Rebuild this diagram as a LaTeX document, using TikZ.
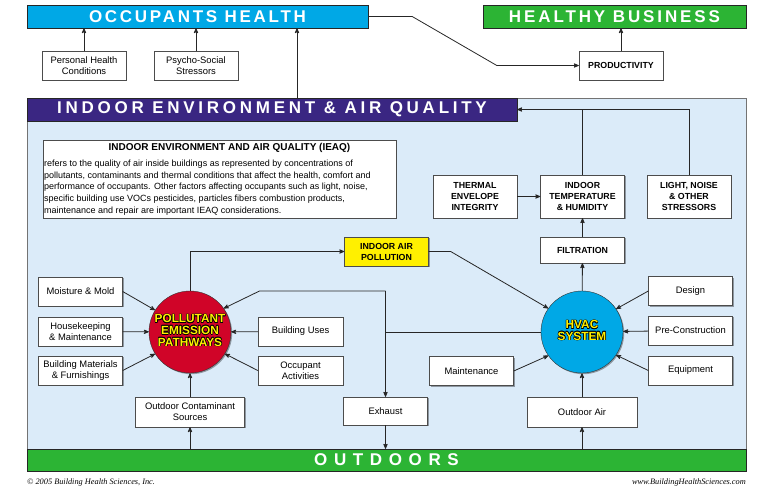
\documentclass[tikz,border=0pt]{standalone}
\usepackage{fontspec}
\setmainfont{Liberation Sans}
\newfontfamily\creditfont{Liberation Serif}
\usepackage{tikz}
\usetikzlibrary{arrows,shadows}
\definecolor{occblue}{RGB}{0,168,230}
\definecolor{iaqpurple}{RGB}{58,38,130}
\definecolor{bizgreen}{RGB}{44,180,52}
\definecolor{panelblue}{RGB}{219,235,249}
\definecolor{pepred}{RGB}{208,4,40}
\definecolor{hilite}{RGB}{255,240,0}
\newsavebox\hubdark
\newsavebox\hublight
\newcommand{\outlined}[1]{%
  \sbox\hubdark{\color{black}\begin{tabular}{@{}c@{}}#1\end{tabular}}%
  \sbox\hublight{\color{hilite}\begin{tabular}{@{}c@{}}#1\end{tabular}}%
  \foreach \dx/\dy in {.6/0,-.6/0,0/.6,0/-.6,.45/.45,-.45/.45,.45/-.45,-.45/-.45}{\rlap{\kern\dx pt\raise\dy pt\copy\hubdark}}%
  \copy\hublight}

\begin{document}
\begin{tikzpicture}[x=1pt, y=-1pt, >=stealth',
    shade/.style={drop shadow={shadow xshift=1.2pt, shadow yshift=-1.2pt, opacity=.35, fill=black}},
    bar/.style={draw=black!85, text=white, inner sep=0pt, shade,
      font=\fontsize{17}{17}\selectfont\bfseries\addfontfeature{LetterSpace=#1}},
    box/.style={draw=black!70, fill=white, minimum width=84, minimum height=29, inner sep=1pt,
      align=center, shade, font=\fontsize{9.4}{11}\selectfont},
    capbox/.style={box, font=\fontsize{8.8}{11}\selectfont\bfseries},
    hub/.style={circle, draw=black!80, minimum size=82, inner sep=0pt, shade,
      font=\fontsize{11.8}{11.5}\selectfont\bfseries},
    wire/.style={line width=0.8pt, black!85},
    link/.style={wire, ->}]
    \useasboundingbox (0,0) rectangle (761,488);

    \draw[fill=panelblue, draw=black!55] (27,98) rectangle (746,449);

    \node[bar=16, fill=occblue, minimum width=341, minimum height=23] (occ) at (197.5,16.5) {OCCUPANTS HEALTH};
    \node[bar=17, fill=bizgreen, minimum width=263, minimum height=23] (biz) at (614.5,16.5) {HEALTHY BUSINESS};
    \node[bar=22, fill=iaqpurple, minimum width=490, minimum height=23] (iaq) at (272,109.5) {INDOOR ENVIRONMENT \& AIR QUALITY};
    \node[bar=39, fill=bizgreen, minimum width=719, minimum height=22] (outdoors) at (386.5,460) {OUTDOORS};

    \node[box] (personal) at (84,65.5) {Personal Health\\Conditions};
    \node[box] (psycho) at (196,65.5) {Psycho-Social\\Stressors};
    \node[capbox] (prod) at (621,65.5) {PRODUCTIVITY};

    \node[box, minimum width=353, minimum height=78] (ieaqdef) at (219.5,179) {};
    \node[font=\fontsize{10}{11}\selectfont\bfseries] (ieaqtitle) at (229.5,148) {INDOOR ENVIRONMENT AND AIR QUALITY (IEAQ)};
    \node[anchor=north west, align=left, inner sep=0pt, font=\fontsize{9}{11.6}\selectfont] (ieaqbody) at (44,160)
      {refers to the quality of air inside buildings as represented by concentrations of\\
       pollutants, contaminants and thermal conditions that affect the health, comfort and\\
       performance of occupants. Other factors affecting occupants such as light, noise,\\
       specific building use VOCs pesticides, particles fibers combustion products,\\
       maintenance and repair are important IEAQ considerations.};

    \node[capbox, minimum height=43] (thermal) at (475,196.5) {THERMAL\\ENVELOPE\\INTEGRITY};
    \node[capbox, minimum height=43] (temp) at (582.5,196.5) {INDOOR\\TEMPERATURE\\\& HUMIDITY};
    \node[capbox, minimum height=43] (light) at (689,196.5) {LIGHT, NOISE\\\& OTHER\\STRESSORS};
    \node[capbox, minimum height=26] (filtration) at (582.5,250) {FILTRATION};
    \node[capbox, fill=hilite] (iap) at (386.5,251.5) {INDOOR AIR\\POLLUTION};

    \node[hub, fill=pepred] (pep) at (190,332) {\outlined{POLLUTANT\\EMISSION\\PATHWAYS}};
    \node[hub, fill=occblue, font=\fontsize{11.8}{11}\selectfont\bfseries] (hvac) at (582,332) {\outlined{HVAC\\SYSTEM}};

    \node[box] (moisture) at (80.5,291.5) {Moisture \& Mold};
    \node[box] (housekeeping) at (80.5,331.5) {Housekeeping\\\& Maintenance};
    \node[box] (materials) at (80.5,370.5) {Building Materials\\\& Furnishings};
    \node[box, minimum width=85] (uses) at (300.5,331.5) {Building Uses};
    \node[box, minimum width=85] (occupant) at (300.5,370.5) {Occupant\\Activities};
    \node[box, minimum width=109, minimum height=30] (ocs) at (190,412) {Outdoor Contaminant\\Sources};
    \node[box, minimum height=28] (exhaust) at (385.5,411) {Exhaust};

    \node[box] (design) at (690.5,291) {Design};
    \node[box] (precon) at (690.5,330.5) {Pre-Construction};
    \node[box] (equip) at (690.5,370.5) {Equipment};
    \node[box] (maint) at (471.5,371) {Maintenance};
    \node[box, minimum width=110, minimum height=30] (oair) at (582,412) {Outdoor Air};

    \draw[link] (personal) -- (personal |- occ.south);
    \draw[link] (psycho) -- (psycho |- occ.south);
    \draw[link] ([xshift=25pt]iaq.north) -- ([xshift=25pt]iaq.north |- occ.south);
    \draw[link] (occ.east) -- ++(44,0) -- ([xshift=-82pt]prod.west) -- (prod.west);
    \draw[link] (prod) -- (prod |- biz.south);

    \draw[link] (light.north) |- (iaq.east);
    \draw[wire] (temp.north) -- (temp.north |- iaq.east);
    \draw[link] (thermal) -- (temp);
    \draw[link] (filtration) -- (temp);
    \draw[link] (hvac) -- (filtration);

    \draw[link] (pep.north) |- (iap.west);
    \draw[link] (iap.east) -- ++(22,0) -- (hvac.145);
    \coordinate (recirc) at (exhaust.north |- 0,291);
    \draw[wire] (hvac.west) -- (hvac.west -| recirc);
    \draw[link] (recirc) -- (exhaust.north);
    \draw[link] (recirc) -- ++(-126,0) -- (pep.35);

    \draw[link] (moisture.east) -- (pep.148);
    \draw[link] (housekeeping) -- (pep);
    \draw[link] (materials.east) -- (pep.212);
    \draw[link] (uses) -- (pep);
    \draw[link] (occupant.west) -- (pep.328);
    \draw[link] (ocs) -- (pep);

    \draw[link] (design.west) -- (hvac.34);
    \draw[link] (precon) -- (hvac);
    \draw[link] (equip.west) -- (hvac.326);
    \draw[link] (maint.east) -- (hvac.215);
    \draw[link] (oair) -- (hvac);

    \draw[link] (outdoors.north -| ocs) -- (ocs);
    \draw[link] (exhaust) -- (exhaust |- outdoors.north);
    \draw[link] (outdoors.north -| oair) -- (oair);

    \node[anchor=base west, inner sep=0pt, font=\creditfont\itshape\fontsize{8.3}{9}\selectfont] (credit) at (27,484) {\copyright\ 2005 Building Health Sciences, Inc.};
    \node[anchor=base east, inner sep=0pt, font=\creditfont\itshape\fontsize{8.3}{9}\selectfont] (web) at (746,484) {www.BuildingHealthSciences.com};
\end{tikzpicture}
\end{document}
